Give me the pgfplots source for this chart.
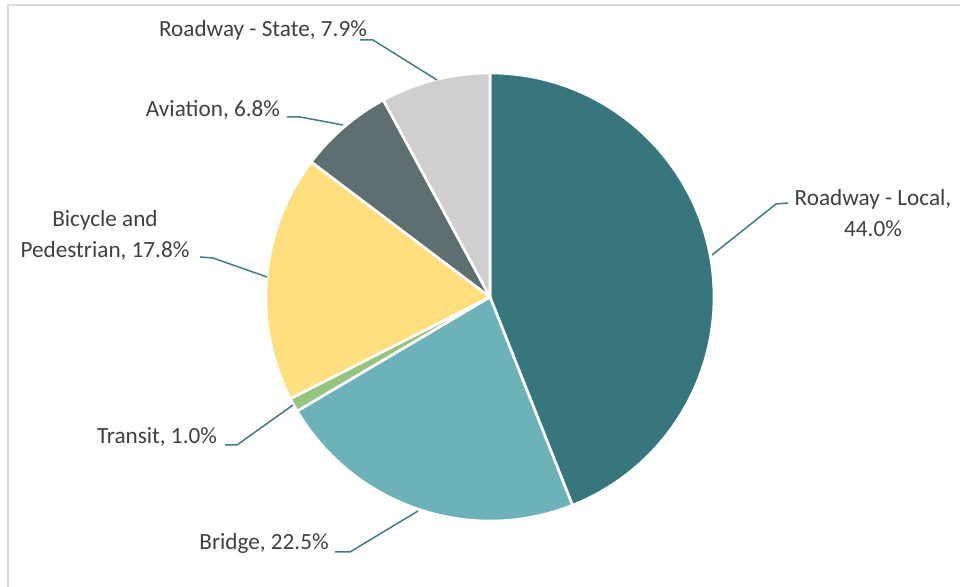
\documentclass[border=0pt]{standalone}
\usepackage{pgfplots}
\pgfplotsset{compat=1.18}
\usepackage{fontspec}
\setmainfont{Carlito}

\definecolor{cLocal}{HTML}{38767E}
\definecolor{cBridge}{HTML}{6EB2B9}
\definecolor{cTransit}{HTML}{94C47D}
\definecolor{cBike}{HTML}{FFDE7E}
\definecolor{cAviation}{HTML}{5F6E70}
\definecolor{cState}{HTML}{D0CECE}
\definecolor{cLeader}{HTML}{3F7C84}
\definecolor{cText}{HTML}{404040}
\definecolor{cFrame}{HTML}{D9D9D9}

% #1 = share before this slice (%), #2 = share of the slice (%), #3 = colour
% slices run clockwise from 12 o'clock; 1 unit = 0.5pt, radius 224 units
\newcommand\slice[3]{%
  \filldraw[fill=#3, draw=white, line width=1.3pt, line join=round]
    (axis cs:490,290) -- ++({90-3.6*(#1)}:112pt)
    arc[start angle={90-3.6*(#1)}, end angle={90-3.6*(#1+#2)}, radius=112pt]
    -- cycle;}

\begin{document}
\begin{tikzpicture}
\begin{axis}[
  width=480pt, height=293.5pt,
  scale only axis,
  hide axis,
  xmin=0, xmax=960,
  ymin=0, ymax=587,
  clip=false,
]
% chart frame (left and top edges visible)
\draw[cFrame, line width=1pt] (axis cs:8,0) -- (axis cs:8,582) -- (axis cs:960,582);

\slice{0}{44.0}{cLocal}
\slice{44.0}{22.5}{cBridge}
\slice{66.5}{1.0}{cTransit}
\slice{67.5}{17.8}{cBike}
\slice{85.3}{6.8}{cAviation}
\slice{92.1}{7.9}{cState}

% leader lines
\draw[cLeader, line width=0.75pt] (axis cs:360,547) -- (axis cs:373,547) -- (axis cs:437,507);
\draw[cLeader, line width=0.75pt] (axis cs:287,470) -- (axis cs:300,470) -- (axis cs:343,462);
\draw[cLeader, line width=0.75pt] (axis cs:200,330) -- (axis cs:213,329) -- (axis cs:267,310);
\draw[cLeader, line width=0.75pt] (axis cs:788,384) -- (axis cs:776,383) -- (axis cs:712,332);
\draw[cLeader, line width=0.75pt] (axis cs:225,142) -- (axis cs:237,142) -- (axis cs:293,182);
\draw[cLeader, line width=0.75pt] (axis cs:335,35) -- (axis cs:350,35) -- (axis cs:418,76);

% data labels
\tikzset{lbl/.style={text=cText, font=\fontsize{11.6}{15.5}\selectfont, align=center, inner sep=0pt}}
\node[lbl] at (axis cs:263,557) {Roadway - State, 7.9\%};
\node[lbl] at (axis cs:213,477) {Aviation, 6.8\%};
\node[lbl] at (axis cs:105,352) {Bicycle and\\Pedestrian, 17.8\%};
\node[lbl] at (axis cs:873,374) {Roadway - Local,\\44.0\%};
\node[lbl] at (axis cs:157,150) {Transit, 1.0\%};
\node[lbl] at (axis cs:264,44) {Bridge, 22.5\%};
\end{axis}
\pgfresetboundingbox
\path (current axis.south west) rectangle (current axis.north east);
\end{tikzpicture}
\end{document}
